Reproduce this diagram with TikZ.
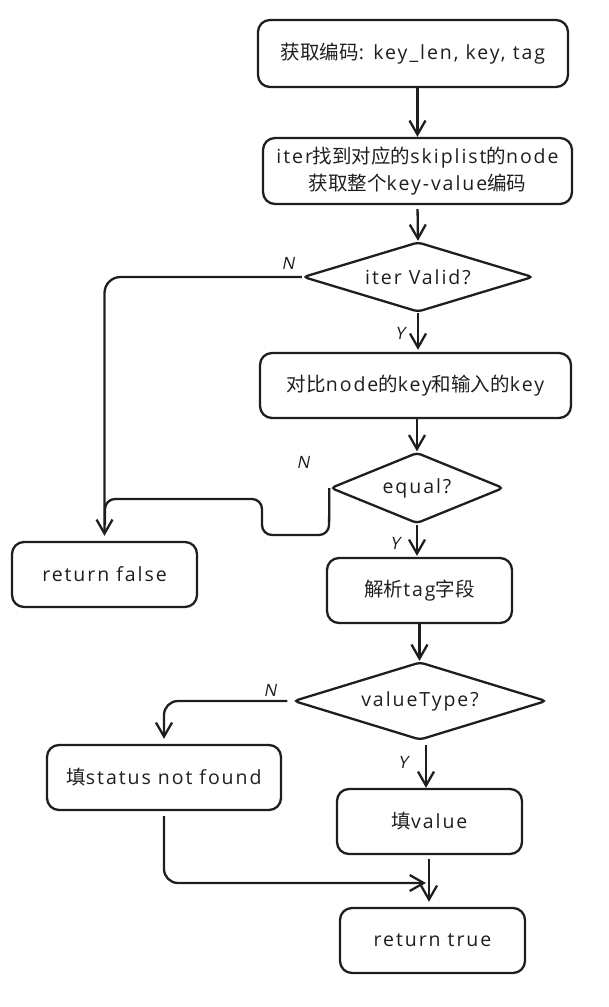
\documentclass[tikz,border=0pt]{standalone}
\usepackage{fontspec}
\setmainfont{Open Sans}[LetterSpace=10]
\newfontfamily\cjk{Noto Sans CJK SC}
\newfontfamily\lblfont[FakeSlant=0.2]{Open Sans}
\usetikzlibrary{arrows.meta,shapes.geometric}
\definecolor{ink}{HTML}{1E1E1E}
\begin{document}
\begin{tikzpicture}[x=1pt,y=-1pt,
  box/.style={draw=ink, line width=2.3pt, rounded corners=12pt, inner sep=0pt, align=center,
    text=ink, font=\fontsize{19.5}{27}\selectfont},
  dec/.style={draw=ink, shape=diamond, aspect=3.2, line width=2.3pt, rounded corners=4pt, inner sep=0pt,
    text=ink, font=\fontsize{19.5}{27}\selectfont},
  conn/.style={draw=ink, line width=2.3pt, -{Straight Barb[length=14pt,width=16pt]}},
  plain/.style={draw=ink, line width=2.3pt},
  lbl/.style={text=ink, font=\lblfont\fontsize{17}{18}\selectfont, inner sep=0pt},
]
\useasboundingbox (0,0) rectangle (608,1007);

% nodes
\node[box, minimum width=310pt, minimum height=67pt] (b1) at (413,53.5) {{\cjk 获取编码}: key\_len, key, tag};
\node[box, minimum width=309pt, minimum height=66pt] (b2) at (417.5,171) {iter{\cjk 找到对应的}skiplist{\cjk 的}node\\{\cjk 获取整个}key-value{\cjk 编码}};
\node[dec, minimum width=230pt, minimum height=70pt] (d1) at (418,277) {iter Valid?};
\node[box, minimum width=311pt, minimum height=65pt] (b3) at (415.5,385.5) {{\cjk 对比}node{\cjk 的}key{\cjk 和输入的}key};
\node[dec, minimum width=173pt, minimum height=71pt] (d2) at (417,488) {equal?};
\node[box, minimum width=185pt, minimum height=65pt] (rf) at (104.5,574.5) {return false};
\node[box, minimum width=185pt, minimum height=65pt] (b4) at (419.5,590.5) {{\cjk 解析}tag{\cjk 字段}};
\node[dec, minimum width=253pt, minimum height=78pt] (d3) at (420,701) {valueType?};
\node[box, minimum width=234pt, minimum height=65pt] (b5) at (164,777.5) {{\cjk 填}status not found};
\node[box, minimum width=185pt, minimum height=65pt] (b6) at (429.5,821.5) {{\cjk 填}value};
\node[box, minimum width=185pt, minimum height=65pt] (b7) at (432.5,940.5) {return true};

% labels
\node[lbl] (n1) at (288,263) {N};
\node[lbl] (y1) at (400,333) {Y};
\node[lbl] (n2) at (303,462) {N};
\node[lbl] (y2) at (395,543) {Y};
\node[lbl] (n3) at (270,690) {N};
\node[lbl] (y3) at (403,762) {Y};

% helper coordinates
\coordinate (e1) at (329,535);
\coordinate (e2) at (262,535);
\coordinate (e3) at (262,499);
\coordinate (e4) at (105,499);
\coordinate (e5) at (105,525);
\coordinate (m1) at (426,883);
\coordinate (d3s) at ([xshift=6pt]d3.south);
\coordinate (b6s) at ([xshift=-0.5pt]b6.south);
\coordinate (b7n) at ([xshift=-3.5pt]b7.north);
\coordinate (d3w) at ([xshift=-5pt]d3.west);

% main flow
\draw[conn] (b1.south -| b2.north) -- (b2.north);
\draw[conn, shorten <=4pt] (b2.south) -- (d1.north);
\draw[conn, shorten >=2pt] (d1.south) -- (b3.north -| d1.south);
\draw[conn] (b3.south -| d2.north) -- (d2.north);
\draw[conn, shorten >=1pt] (d2.south) -- (b4.north -| d2.south);
\draw[conn] (b4.south) -- (d3.north -| b4.south);
\draw[conn, shorten <=4pt] (d3s) -- (b6.north -| d3s);
\draw[conn, shorten <=4pt, shorten >=5pt] (b6s) -- (b7n);

% N branches
\draw[conn, rounded corners=16pt, shorten >=5pt] (d1.west) -| (rf.north);
\draw[plain, rounded corners=10pt] (d2.west) -- (e1) -- (e2) -- (e3) -- (e4) -- (e5);
\draw[conn, rounded corners=14pt, shorten >=5pt] (d3w) -| (b5.north);

% merge into return true
\draw[conn, rounded corners=14pt, shorten <=5pt] (b5.south) |- (m1);
\end{tikzpicture}
\end{document}
